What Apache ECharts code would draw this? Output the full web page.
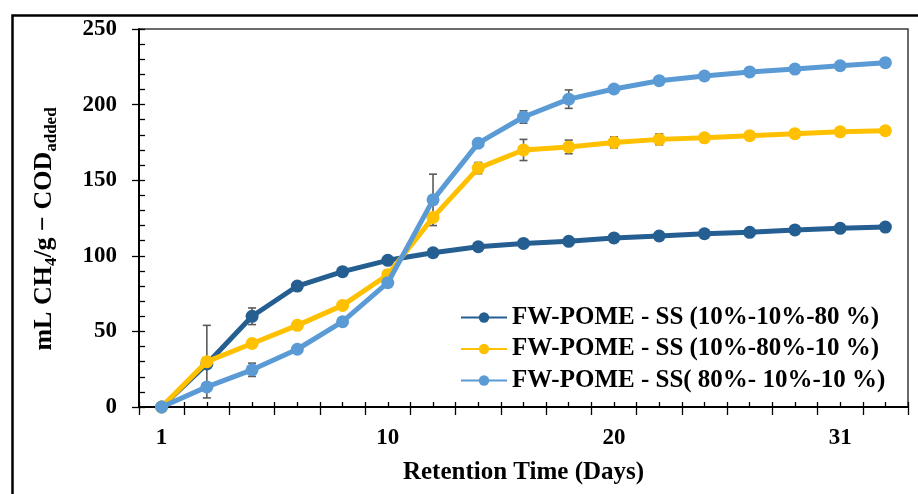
<!DOCTYPE html>
<html>
<head>
<meta charset="utf-8">
<script src="https://cdn.jsdelivr.net/npm/echarts@6/dist/echarts.min.js"></script>
<style>
html,body{margin:0;padding:0;background:#fff;}
#chart{width:918px;height:494px;}
</style>
</head>
<body>
<div id="chart"></div>
<script>
// ---- data ----
const pointIndex = [0,1,2,3,4,5,6,7,8,9,10,11,12,13,14,15,16];
const xTickLabels = ['1','','','','','10','','','','','20','','','','','31',''];
const seriesNames = [
  'FW-POME - SS (10%-10%-80 %)',
  'FW-POME - SS (10%-80%-10 %)',
  'FW-POME - SS( 80%- 10%-10 %)'
];
const darkBlue = [0, 28.5, 60, 80, 89.5, 97, 102, 106, 108.2, 109.6, 111.8, 113.1, 114.6, 115.5, 117.1, 118.2, 119];
const yellow   = [0, 30, 42, 54, 67.2, 87.5, 125.4, 158, 170, 172, 175, 177, 178, 179.4, 180.8, 182, 182.7];
const lightBlue= [0, 13.3, 24.6, 38.2, 56.4, 82.2, 137, 174.5, 191.8, 203.6, 210.3, 215.8, 218.9, 221.6, 223.5, 225.7, 227.7];
// error half-widths (null = none)
const darkBlueErr  = [null, null, 5.5, null, null, null, null, null, null, null, null, null, null, null, null, null, null];
const yellowErr    = [null, 24, null, null, null, 3, null, 3.7, 7, 4.5, 3.6, 3.6, null, null, null, null, null];
const lightBlueErr = [null, null, 4.4, null, null, null, 17, null, 4.1, 6.1, null, null, null, null, null, null, null];
const yTicks = [0, 50, 100, 150, 200, 250];

const colors = ['#255E91', '#FFC000', '#5B9BD5'];
const font = 'Liberation Serif';

function errData(vals, errs) {
  const out = [];
  vals.forEach((v, i) => { if (errs[i] != null) out.push([i, v - errs[i], v + errs[i]]); });
  return out;
}
function errSeries(vals, errs) {
  return {
    type: 'custom',
    z: 1,
    silent: true,
    data: errData(vals, errs),
    renderItem: function (params, api) {
      const x = api.value(0);
      const lo = api.coord([x, api.value(1)]);
      const hi = api.coord([x, api.value(2)]);
      const w = 4;
      const st = {stroke: '#5a5a5a', lineWidth: 1.6};
      return {type: 'group', children: [
        {type: 'line', shape: {x1: lo[0], y1: lo[1], x2: hi[0], y2: hi[1]}, style: st},
        {type: 'line', shape: {x1: lo[0]-w, y1: lo[1], x2: lo[0]+w, y2: lo[1]}, style: st},
        {type: 'line', shape: {x1: hi[0]-w, y1: hi[1], x2: hi[0]+w, y2: hi[1]}, style: st}
      ]};
    }
  };
}
function lineSeries(name, vals, color, z) {
  return {
    name: name, type: 'line', data: vals, z: z,
    symbol: 'circle', symbolSize: 13, smooth: false,
    lineStyle: {color: color, width: 5},
    itemStyle: {color: color},
    emphasis: {disabled: true}
  };
}

const chart = echarts.init(document.getElementById('chart'));
chart.setOption({
  animation: false,
  backgroundColor: '#fff',
  color: colors,
  grid: {left: 139, top: 29, right: 10, bottom: 87, show: true, borderColor: '#3a3a3a', borderWidth: 1.5, backgroundColor: 'transparent'},
  graphic: [{
    type: 'rect', left: 10, top: 13, silent: true, z: 100,
    shape: {width: 1000, height: 1000},
    style: {fill: 'none', stroke: '#000', lineWidth: 2.5}
  }],
  legend: {
    orient: 'vertical', left: 455, top: 300,
    itemWidth: 46, itemHeight: 13, itemGap: 6.5,
    data: seriesNames,
    textStyle: {fontFamily: font, fontWeight: 'bold', fontSize: 25, color: '#000', lineHeight: 22}
  },
  xAxis: [{
    type: 'category', data: pointIndex, boundaryGap: true,
    name: 'Retention Time (Days)', nameLocation: 'middle', nameGap: 53,
    nameTextStyle: {fontFamily: font, fontWeight: 'bold', fontSize: 25, color: '#000'},
    axisLine: {lineStyle: {color: '#000', width: 2}},
    axisTick: {show: true, interval: 0, length: 8, lineStyle: {color: '#000', width: 1.3}},
    axisLabel: {interval: 0, margin: 20, formatter: (v, i) => xTickLabels[i],
      fontFamily: font, fontWeight: 'bold', fontSize: 23, color: '#000'},
    splitLine: {show: false}
  }, {
    type: 'category', data: pointIndex, boundaryGap: true, position: 'bottom',
    axisLine: {show: false},
    axisTick: {show: true, interval: 0, inside: true, length: 5, lineStyle: {color: '#000', width: 1.3}},
    axisLabel: {show: false}, splitLine: {show: false}
  }, {
    type: 'category', data: pointIndex, boundaryGap: true, position: 'bottom',
    axisLine: {show: false},
    axisTick: {show: true, interval: 0, alignWithLabel: true, inside: true, length: 5, lineStyle: {color: '#000', width: 1.3}},
    axisLabel: {show: false}, splitLine: {show: false}
  }],
  yAxis: [{
    type: 'value', min: yTicks[0], max: yTicks[yTicks.length-1], interval: 50,
    name: '{b|mL CH}{s|4}{b|/g − COD}{s|added}', nameLocation: 'middle', nameGap: 79, nameRotate: 90,
    nameTextStyle: {
      padding: [0, 22, 0, 0],
      rich: {
        b: {fontFamily: font, fontWeight: 'bold', fontSize: 26, color: '#000', lineHeight: 32, verticalAlign: 'middle'},
        s: {fontFamily: font, fontWeight: 'bold', fontSize: 17, color: '#000', lineHeight: 32, verticalAlign: 'bottom', padding: [13,0,0,0]}
      }
    },
    axisLine: {show: true, lineStyle: {color: '#000', width: 2}},
    axisTick: {show: true, length: 7, lineStyle: {color: '#000', width: 1.3}},
    axisLabel: {margin: 22, fontFamily: font, fontWeight: 'bold', fontSize: 23, color: '#000'},
    splitLine: {show: false}
  }, {
    type: 'value', min: yTicks[0], max: yTicks[yTicks.length-1], interval: 10, position: 'left',
    axisLine: {show: false},
    axisTick: {show: true, inside: true, length: 6, lineStyle: {color: '#000', width: 1.3}},
    axisLabel: {show: false}, splitLine: {show: false}
  }],
  series: [
    errSeries(darkBlue, darkBlueErr),
    errSeries(yellow, yellowErr),
    errSeries(lightBlue, lightBlueErr),
    lineSeries(seriesNames[0], darkBlue, colors[0], 2),
    lineSeries(seriesNames[1], yellow, colors[1], 3),
    lineSeries(seriesNames[2], lightBlue, colors[2], 4)
  ]
});
</script>
</body>
</html>
